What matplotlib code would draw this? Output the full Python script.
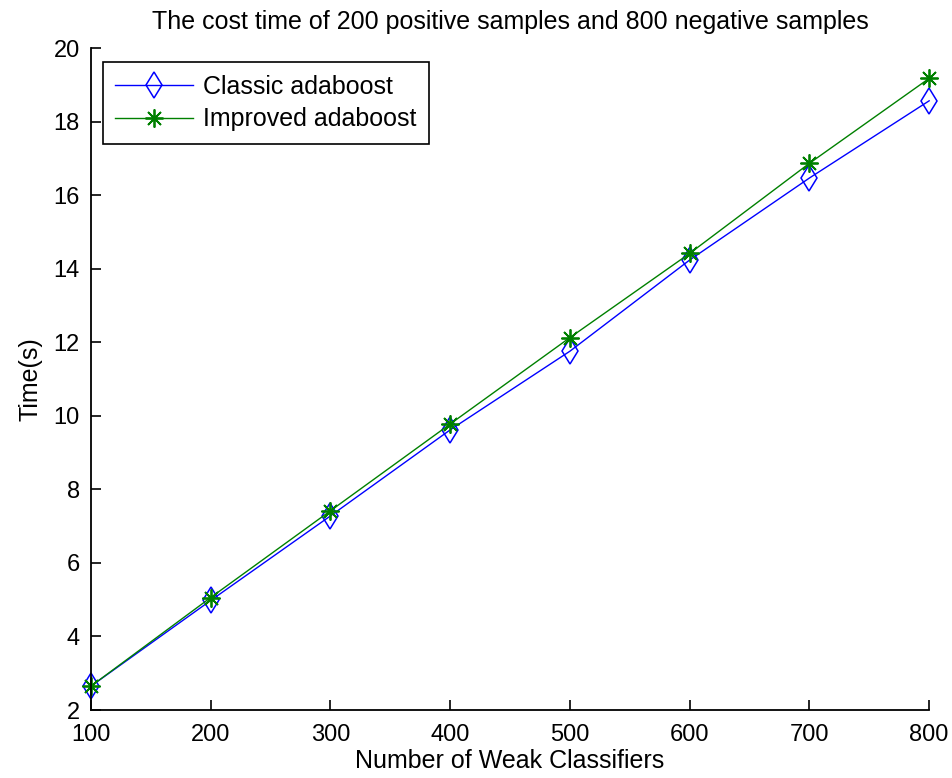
import matplotlib
matplotlib.use("Agg")
import matplotlib.pyplot as plt

# number of weak classifiers and measured times (s)
weak = [100, 200, 300, 400, 500, 600, 700, 800]
classic = [2.65, 4.98, 7.28, 9.62, 11.76, 14.24, 16.47, 18.57]
improved = [2.65, 5.06, 7.42, 9.78, 12.13, 14.42, 16.87, 19.18]

plt.rcParams['font.family'] = ['Liberation Sans', 'DejaVu Sans']

fig = plt.figure(figsize=(9.52, 7.78), dpi=100)
ax = fig.add_axes([0.0956, 0.0874, 0.8804, 0.8506])

ax.plot(weak, classic, color='blue', marker='d', markersize=13, markerfacecolor='none',
        markeredgewidth=1.1, linewidth=1.0, label='Classic adaboost', clip_on=False)
ax.plot(weak, improved, color='green', marker=(8, 2, 0), markersize=13, markeredgewidth=1.3,
        linewidth=1.0, label='Improved adaboost', clip_on=False)

ax.set_xlim(100, 800)
ax.set_ylim(2, 20)
ax.set_xticks(weak)
ax.set_yticks(range(2, 21, 2))
ax.tick_params(direction='in', length=7, width=1.2, labelsize=17)
ax.tick_params(axis='x', pad=10)
ax.tick_params(axis='y', pad=8)
for s in ['top', 'right']:
    ax.spines[s].set_visible(False)
for s in ['left', 'bottom']:
    ax.spines[s].set_linewidth(1.3)

ax.set_xlabel('Number of Weak Classifiers', fontsize=18, labelpad=2)
ax.set_ylabel('Time(s)', fontsize=18, labelpad=8)
ax.set_title('The cost time of 200 positive samples and 800 negative samples', fontsize=18, pad=14)

leg = ax.legend(loc='upper left', fontsize=18, fancybox=False, edgecolor='black',
                framealpha=1, borderpad=0.5, handlelength=3.1, handletextpad=0.4,
                labelspacing=0.35, borderaxespad=0, bbox_to_anchor=(0.0143, 0.979))
leg.get_frame().set_linewidth(1.2)

fig.savefig('out.png', dpi=100)
